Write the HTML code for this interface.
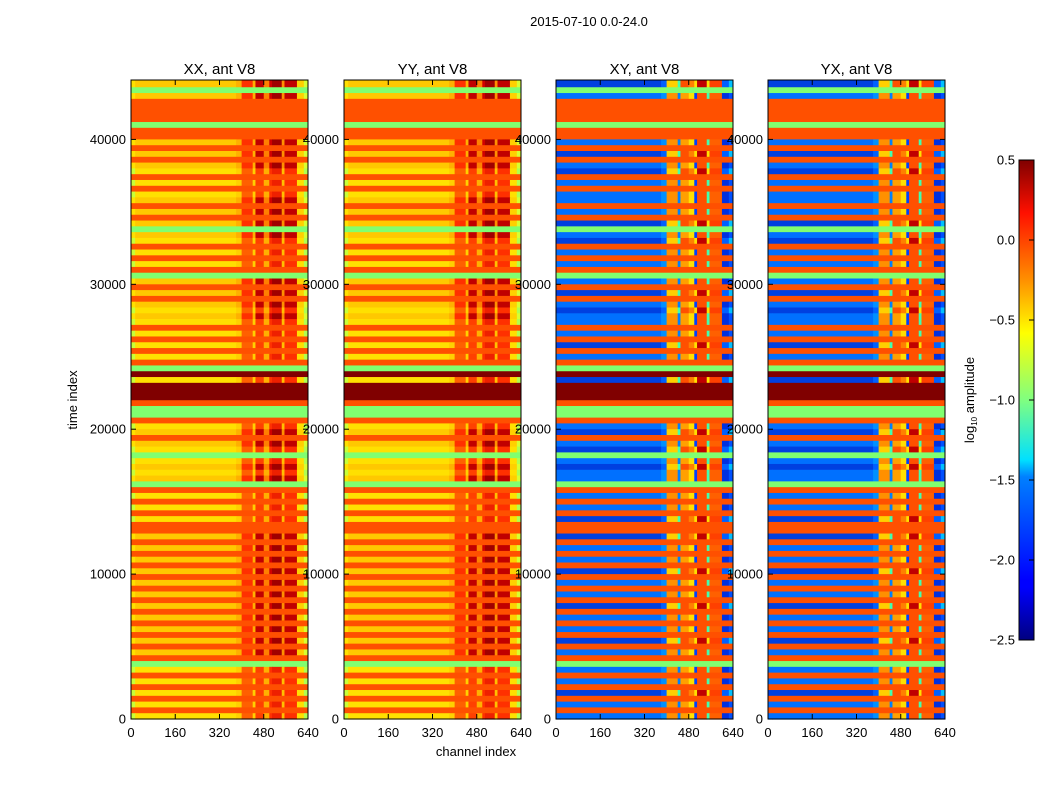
<!DOCTYPE html>
<html><head><meta charset="utf-8"><style>
body{margin:0;background:#fff;}
svg{display:block;font-family:"Liberation Sans",sans-serif;}
</style></head><body>
<svg id="fig" width="1050" height="800">
<defs>
<linearGradient id="jet" x1="0" y1="1" x2="0" y2="0">
<stop offset="0" stop-color="#000080"/><stop offset="0.11" stop-color="#0000ff"/>
<stop offset="0.125" stop-color="#0000ff"/><stop offset="0.34" stop-color="#0080ff"/>
<stop offset="0.375" stop-color="#00e0ff"/><stop offset="0.5" stop-color="#80ff80"/>
<stop offset="0.64" stop-color="#ffff00"/><stop offset="0.75" stop-color="#ff9000"/>
<stop offset="0.89" stop-color="#ff1000"/><stop offset="1" stop-color="#800000"/>
</linearGradient>
</defs>
<text x="589" y="26" font-size="13" text-anchor="middle">2015-07-10 0.0-24.0</text>
<text x="476" y="756" font-size="13" text-anchor="middle">channel index</text>
<text transform="translate(77,400) rotate(-90)" font-size="13" text-anchor="middle">time index</text>
<g id="panels"></g>
<g id="cbar">
<rect x="1019" y="160" width="15" height="480" fill="url(#jet)" stroke="#000" stroke-width="1"/>
<text transform="translate(974,400) rotate(-90)" font-size="13" text-anchor="middle">log<tspan font-size="8" dy="3">10</tspan><tspan dy="-3"> amplitude</tspan></text>
</g>
</svg>
<script>
const NS="http://www.w3.org/2000/svg";
// 110 time rows of 400 units from 44000 down to 0: o=flagged(orange), y=data, g=green, d=dark red
const rowCodes="ygyoooogoo"+"yoyoyyoyoy"+"yoyoygyyoy"+"oyogyoyoyy"+"yyoyoyoyog"+"dydddoggoy"+"yoyygyyyyg"+"oyoyoyooyo"+"yoyoyoyoyo"+"yoyoyoyoyo"+"gyoyoyoyoy";
const rowStep=400;
const titles=["XX, ant V8","YY, ant V8","XY, ant V8","YX, ant V8"];
const xTicks=[0,160,320,480,640];
const yTicks=[0,10000,20000,30000,40000];
const cbTicks=[0.5,0.0,-0.5,-1.0,-1.5,-2.0,-2.5];
const chanEdges=[0,15,380,400,440,450,480,500,510,545,555,600,625,640];
const parSegA=["#c8ff38","#ffe000","#ffd000","#ff6000","#ffd000","#ff4000","#ffb000","#ff3000","#ee2000","#ffc000","#ff3000","#ffe000","#b0ff50"];
const parSegB=["#ffe000","#ffc800","#ffb000","#ff3000","#ffb000","#c00000","#ff8000","#d00000","#a00000","#ff9000","#c00000","#ffd000","#d8ff30"];
const crossSegA=["#0070ff","#0070ff","#0090ff","#ff9000","#0080ff","#ffa000","#ffe000","#0040ff","#ff5000","#40ffb0","#ff6000","#0030e0","#0050ff"];
const crossSegB=["#0040e0","#0040e0","#0060ff","#ffd000","#40ffb0","#ff5000","#ff8000","#ffe000","#c00000","#ffe000","#ff4000","#0060ff","#00c0ff"];
const flagCol={o:"#ff5000",g:"#80ff70",d:"#800000"};
const panelX=[131,344,556,768],pw=177,yTop=80,yBot=719,ymax=44100;
const yS=t=>yBot-(t/ymax)*(yBot-yTop);
const g=document.getElementById('panels');
function mk(tag,attrs,parent){const e=document.createElementNS(NS,tag);for(const k in attrs)e.setAttribute(k,attrs[k]);parent.appendChild(e);return e;}
const n=rowCodes.length;
panelX.forEach((px,p)=>{
  const xS=c=>px+c/640*pw;
  const pg=mk('g',{},g);
  
  
  const cross=p>=2;
  for(let i=0;i<n;i++){
    const code=rowCodes[i];
    const tHi=i===0?ymax:(n-i)*rowStep, tLo=(n-i-1)*rowStep;
    const y0=yS(tHi),y1=yS(tLo);
    if(code!=='y'){
      const r=mk('rect',{x:px,y:y0,width:pw,height:y1-y0+0.6,fill:flagCol[code]},pg);
      
      
    }else{
      const segs=cross?(i%3===0?crossSegB:crossSegA):(i%2===0?parSegB:parSegA);
      for(let s=0;s<segs.length;s++){
        const r=mk('rect',{x:xS(chanEdges[s]),y:y0,width:xS(chanEdges[s+1])-xS(chanEdges[s])+0.5,height:y1-y0+0.6,fill:segs[s]},pg);
        
        
      }
    }
  }
  const fr=mk('rect',{x:px,y:yTop,width:pw,height:yBot-yTop,fill:'none',stroke:'#000','stroke-width':1},pg);
  
  
  const tt=mk('text',{x:px+pw/2,y:74,'font-size':15,'text-anchor':'middle'},pg);tt.textContent=titles[p];
  
  
  xTicks.forEach(v=>{
    const x=xS(v);
    mk('line',{x1:x,x2:x,y1:yBot,y2:yBot-5,stroke:'#000'},pg);
    mk('line',{x1:x,x2:x,y1:yTop,y2:yTop+5,stroke:'#000'},pg);
    const t=mk('text',{x:x,y:737,'font-size':13,'text-anchor':'middle'},pg);t.textContent=v;
    
    
  });
  yTicks.forEach(v=>{
    const y=yS(v);
    mk('line',{x1:px,x2:px+5,y1:y,y2:y,stroke:'#000'},pg);
    mk('line',{x1:px+pw,x2:px+pw-5,y1:y,y2:y,stroke:'#000'},pg);
    const t=mk('text',{x:px-5,y:y+4.5,'font-size':13,'text-anchor':'end'},pg);t.textContent=v;
    
    
  });
});
const cb=document.getElementById('cbar');
cbTicks.forEach(v=>{
  const y=160+(0.5-v)/3*480;
  mk('line',{x1:1034,x2:1029,y1:y,y2:y,stroke:'#000'},cb);
  const t=mk('text',{x:1015,y:y+4.5,'font-size':13,'text-anchor':'end'},cb);
  t.textContent=(v<0?'\u2212':'')+Math.abs(v).toFixed(1);
  
  
});
</script>
</body></html>
